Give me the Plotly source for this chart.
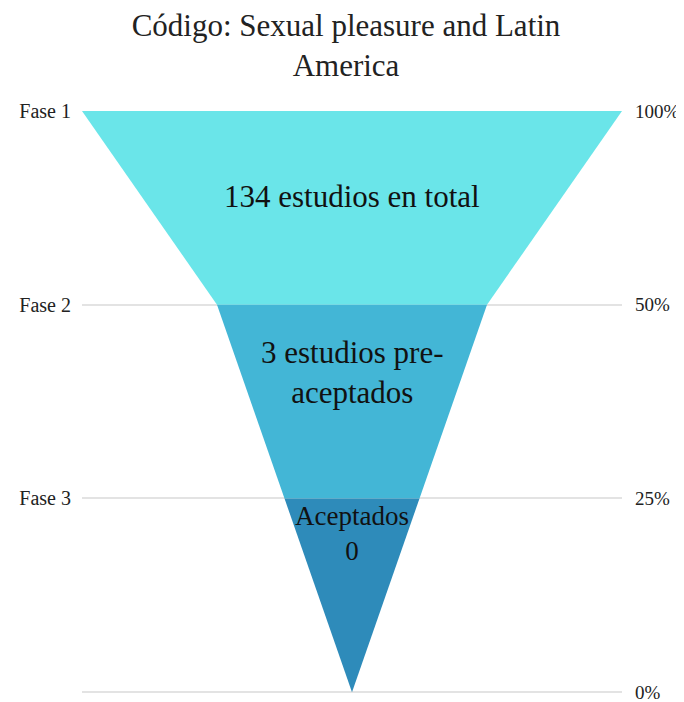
import plotly.graph_objects as go

# datos del embudo
fases = ["Fase 1", "Fase 2", "Fase 3"]
porcentajes = [100, 50, 25, 0]
etiquetas_pct = ["100%", "50%", "25%", "0%"]
textos = ["134 estudios en total", "3 estudios pre-<br>aceptados", "Aceptados<br>0"]
colores = ["#6ae5e9", "#43b6d6", "#2e8bba"]

texto_y = [0.44, 1.35, 2.18]
texto_size = [31, 31, 27]

fig = go.Figure()

for i in range(len(fases)):
    p_top = porcentajes[i] / 200
    p_bot = porcentajes[i + 1] / 200
    fig.add_trace(go.Scatter(
        x=[-p_top, p_top, p_bot, -p_bot, -p_top],
        y=[i, i, i + 1, i + 1, i],
        fill="toself", fillcolor=colores[i],
        mode="lines", line=dict(width=0, color=colores[i]),
        hoverinfo="skip", showlegend=False,
    ))
    fig.add_annotation(x=0, y=texto_y[i], text=textos[i], showarrow=False,
                       font=dict(size=texto_size[i], color="#111"),
                       xanchor="center", yanchor="middle")

# eje derecho para los porcentajes
fig.add_trace(go.Scatter(x=[0], y=[0], yaxis="y2", mode="markers",
                         marker=dict(opacity=0), hoverinfo="skip", showlegend=False))

niveles = list(range(len(porcentajes)))
rango_y = [3.03, 0]
fuente = "Liberation Serif, Times New Roman, serif"

# la pagina deja 8px de margen en el body
fig.update_layout(
    width=676, height=694,
    margin=dict(l=74, r=62, t=103, b=4),
    paper_bgcolor="white", plot_bgcolor="white",
    font=dict(family=fuente, color="#222", size=20),
    title=dict(text="Código: Sexual pleasure and Latin<br>America",
               x=0.5, xanchor="center", y=0.96, yanchor="middle",
               font=dict(family=fuente, size=31, color="#222")),
    xaxis=dict(range=[-0.5, 0.5], visible=False, fixedrange=True),
    yaxis=dict(range=rango_y, tickmode="array", tickvals=niveles,
               ticktext=fases + [""], showgrid=True, gridcolor="#e3e3e3",
               gridwidth=1.5, zeroline=False, showline=False,
               ticklabelstandoff=10, automargin=False, ticklabeloverflow="allow",
               tickfont=dict(family=fuente, size=20)),
    yaxis2=dict(range=rango_y, overlaying="y", side="right", tickmode="array",
                tickvals=niveles, ticktext=etiquetas_pct, showgrid=False,
                zeroline=False, showline=False, ticklabelstandoff=12,
                automargin=False, ticklabeloverflow="allow",
                tickfont=dict(family=fuente, size=19)),
)

fig.write_html("out.html")
